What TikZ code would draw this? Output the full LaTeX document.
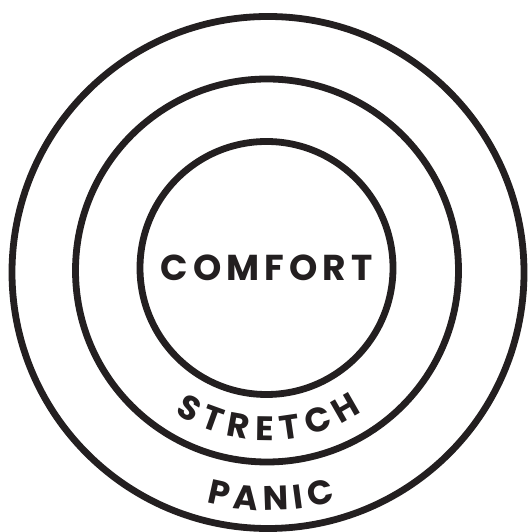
\documentclass[tikz,border=0pt]{standalone}
\usepackage{fontspec}
\setmainfont{Poppins}
\newfontfamily\zonefont[LetterSpace=14]{Poppins}
\usetikzlibrary{decorations.text}
\definecolor{ink}{HTML}{231F20}

\begin{document}
\begin{tikzpicture}[x=1pt,y=1pt,
  ring/.style={circle,draw=ink,line width=6.8pt,inner sep=0pt},
  arclabel/.style={decorate,decoration={text along path,text align={fit to path},text color=ink}}]
\useasboundingbox (0,0) rectangle (528,532);
\node[ring,minimum size=512pt] (panic) at (268,259.5) {};
\node[ring,minimum size=383pt] (stretch) at (267,261.5) {};
\node[ring,minimum size=253pt,text=ink,font=\zonefont\bfseries\fontsize{36}{36}\selectfont] (comfort) at (266.5,264) {COMFORT};
\path[arclabel,decoration={text={|\bfseries\fontsize{34}{34}\selectfont|STRETCH}}]
  ([shift={(237:170pt)}]stretch.center) arc[start angle=237,end angle=304,radius=170pt];
\path[arclabel,decoration={text={|\bfseries\fontsize{34}{34}\selectfont|PANIC}}]
  ([shift={(255:238pt)}]panic.center) arc[start angle=255,end angle=286.5,radius=238pt];
\end{tikzpicture}
\end{document}
